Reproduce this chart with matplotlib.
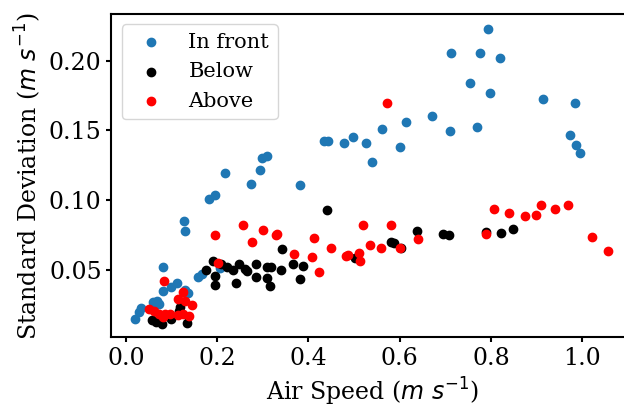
import matplotlib
matplotlib.use("Agg")
import matplotlib.pyplot as plt

# air speed (m/s) and standard deviation (m/s)
front_speed = [0.020, 0.028, 0.034, 0.060, 0.069, 0.073, 0.082, 0.082, 0.098, 0.112,
               0.127, 0.129, 0.129, 0.136, 0.158, 0.166, 0.183, 0.195, 0.206, 0.218,
               0.274, 0.294, 0.299, 0.310, 0.382, 0.434, 0.442, 0.478, 0.498, 0.525,
               0.539, 0.561, 0.600, 0.613, 0.671, 0.711, 0.713, 0.753, 0.769, 0.776,
               0.794, 0.798, 0.820, 0.913, 0.973, 0.983, 0.986, 0.996]
front_std = [0.0149, 0.0201, 0.0225, 0.0270, 0.0278, 0.0254, 0.0349, 0.0519, 0.0380, 0.0409,
             0.0847, 0.0780, 0.0357, 0.0333, 0.0450, 0.0473, 0.1009, 0.1038, 0.0512, 0.1191,
             0.1112, 0.1215, 0.1301, 0.1313, 0.1110, 0.1425, 0.1425, 0.1411, 0.1449, 0.1406,
             0.1275, 0.1507, 0.1382, 0.1560, 0.1605, 0.1497, 0.2057, 0.1839, 0.1524, 0.2054,
             0.2224, 0.1768, 0.2016, 0.1725, 0.1466, 0.1698, 0.1395, 0.1339]

below_speed = [0.056, 0.066, 0.078, 0.098, 0.117, 0.119, 0.134, 0.175, 0.191, 0.195,
               0.195, 0.208, 0.222, 0.235, 0.241, 0.248, 0.261, 0.266, 0.285, 0.286,
               0.308, 0.318, 0.308, 0.315, 0.340, 0.341, 0.365, 0.381, 0.387, 0.440,
               0.503, 0.580, 0.587, 0.602, 0.638, 0.695, 0.709, 0.790, 0.822, 0.849]
below_std = [0.0140, 0.0125, 0.0110, 0.0147, 0.0205, 0.0232, 0.0122, 0.0498, 0.0565, 0.0455,
             0.0392, 0.0541, 0.0517, 0.0500, 0.0409, 0.0545, 0.0507, 0.0493, 0.0545, 0.0450,
             0.0517, 0.0517, 0.0438, 0.0383, 0.0502, 0.0646, 0.0545, 0.0433, 0.0527, 0.0928,
             0.0584, 0.0703, 0.0696, 0.0656, 0.0775, 0.0760, 0.0751, 0.0770, 0.0763, 0.0796]

above_speed = [0.051, 0.062, 0.072, 0.081, 0.085, 0.097, 0.114, 0.124, 0.138, 0.084,
               0.113, 0.125, 0.129, 0.145, 0.196, 0.201, 0.257, 0.276, 0.300, 0.328,
               0.330, 0.368, 0.407, 0.411, 0.422, 0.449, 0.482, 0.486, 0.511, 0.512,
               0.519, 0.535, 0.560, 0.571, 0.580, 0.600, 0.640, 0.790, 0.806, 0.839,
               0.874, 0.899, 0.909, 0.941, 0.969, 1.021, 1.057]
above_std = [0.0218, 0.0206, 0.0180, 0.0165, 0.0182, 0.0186, 0.0175, 0.0185, 0.0170, 0.0419,
             0.0290, 0.0342, 0.0278, 0.0247, 0.0753, 0.0552, 0.0823, 0.0701, 0.0789, 0.0751,
             0.0760, 0.0615, 0.0593, 0.0725, 0.0486, 0.0656, 0.0598, 0.0608, 0.0624, 0.0565,
             0.0818, 0.0679, 0.0660, 0.1698, 0.0825, 0.0660, 0.0720, 0.0760, 0.0933, 0.0911,
             0.0887, 0.0895, 0.0966, 0.0933, 0.0964, 0.0735, 0.0634]

plt.rcParams['font.family'] = ['DejaVu Serif']
plt.rcParams['font.size'] = 17

fig = plt.figure(figsize=(6.24, 4.07), dpi=100)
# axes run past the right edge of the image, as in the original crop
ax = fig.add_axes([0.1785, 0.1708, 0.8365, 0.795])

ax.scatter(front_speed, front_std, color='#1f77b4', label='In front')
ax.scatter(below_speed, below_std, color='k', label='Below')
ax.scatter(above_speed, above_std, color='r', label='Above')

ax.set_xlim(-0.032, 1.112)
ax.set_ylim(0.0015, 0.2335)
ax.set_xticks([0.0, 0.2, 0.4, 0.6, 0.8, 1.0])
ax.set_yticks([0.05, 0.10, 0.15, 0.20])
ax.set_xlabel(r"Air Speed ($m\ s^{-1}$)")
ax.set_ylabel(r"Standard Deviation ($m\ s^{-1}$)")
for sp in ax.spines.values():
    sp.set_linewidth(1.5)
ax.spines['right'].set_visible(False)
ax.tick_params(width=1.5)
ax.legend(loc='upper left', fontsize=15)

fig.savefig("out.png", dpi=100)
